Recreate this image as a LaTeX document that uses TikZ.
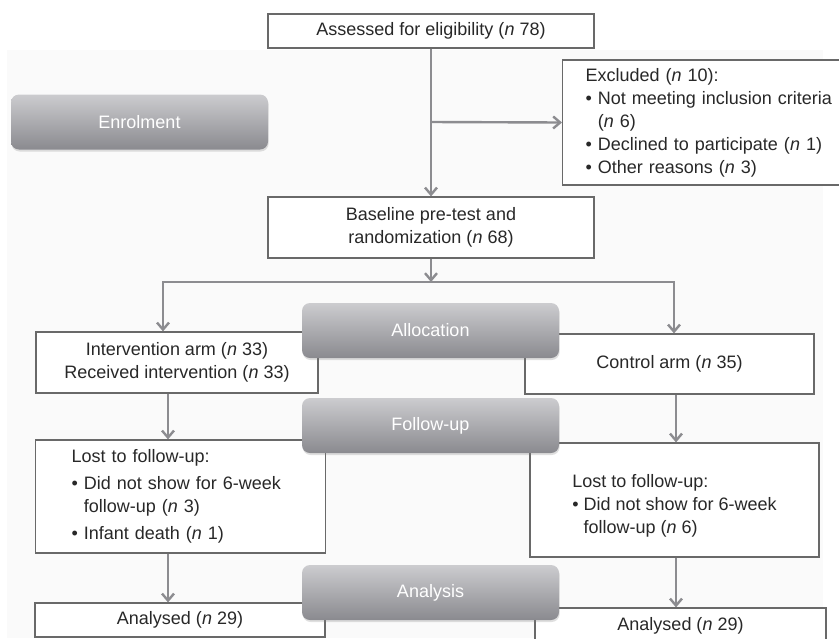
\documentclass[tikz,border=0pt]{standalone}
\usepackage{fontspec}
\setsansfont{Liberation Sans}
\usetikzlibrary{positioning, arrows.meta, shadows}

\definecolor{boxline}{RGB}{105,105,105}
\definecolor{arrowgray}{RGB}{140,140,144}
\definecolor{stagetop}{RGB}{204,204,207}
\definecolor{stagebot}{RGB}{138,138,143}
\definecolor{txtgray}{RGB}{40,40,40}
\definecolor{panelgray}{RGB}{250,250,250}

\newcommand{\nval}[1]{(\textit{n}~#1)}
\newcommand{\bul}{\textbullet\ }
\newcommand{\bulgap}{\hphantom{\textbullet\ }}

\begin{document}
\begin{tikzpicture}[
  x=0.5pt, y=-0.5pt,
  font=\sffamily\fontsize{9}{11.5}\selectfont,
  box/.style={
    draw=boxline, line width=0.6pt, fill=white, text=txtgray,
    inner sep=0pt, align=center
  },
  listbox/.style={box, anchor=west, align=left},
  stage/.style={
    rounded corners=4pt, top color=stagetop, bottom color=stagebot,
    text=white, minimum width=128.5pt, minimum height=27.5pt,
    drop shadow={shadow xshift=0.3pt, shadow yshift=-1pt, opacity=0.25}
  },
  conn/.style={draw=arrowgray, line width=1.2pt,
    -{Straight Barb[length=3.5pt, width=6pt]}},
]

\clip (0,0) rectangle (839,638);
\fill[panelgray] (7,50) rectangle (823,638);

\node[box, minimum width=163pt, minimum height=17pt] (assess) at (431,31)
  {Assessed for eligibility \nval{78}};
\node[listbox, inner xsep=11.5pt, text width=124pt, minimum height=62.5pt] (excl) at (562,122.5)
  {Excluded \nval{10}:\\ \bul Not meeting inclusion criteria\\ \bulgap\nval{6}\\
   \bul Declined to participate \nval{1}\\ \bul Other reasons \nval{3}};

\node[box, minimum width=163pt, minimum height=30.5pt] (base) at (431,227.5)
  {Baseline pre-test and\\ randomization \nval{68}};

\node[box, minimum width=141pt, minimum height=30.5pt] (intv) at (177,362.5)
  {Intervention arm \nval{33}\\ Received intervention \nval{33}};
\node[box, minimum width=144.5pt, minimum height=30pt] (ctrl) at (669.5,364)
  {Control arm \nval{35}};

\node[listbox, inner xsep=18pt, text width=109pt, minimum height=56.5pt] (lfu) at (35,496.5)
  {Lost to follow-up:\\[2pt] \bul Did not show for 6-week\\ \bulgap follow-up \nval{3}\\[2pt]
   \bul Infant death \nval{1}};
\node[box, align=left, minimum width=144.5pt, minimum height=57pt] (rfu) at (674.5,500)
  {\rule{0pt}{12.5pt}Lost to follow-up:\\ \bul Did not show for 6-week\\ \bulgap follow-up \nval{6}};

\node[box, minimum width=145pt, minimum height=17pt] (lana) at (180,620) {Analysed \nval{29}};
\node[box, minimum width=145.5pt, minimum height=18pt] (rana) at (680.5,626) {Analysed \nval{29}};

\coordinate (split) at (431,122);
\coordinate (hub) at (431,282);
\coordinate (lsplit) at (163,282);
\coordinate (rsplit) at (674,282);
\coordinate (lcol) at (168,0);
\coordinate (rcol) at (676,0);

\draw[conn] (assess) -- (base);
\draw[conn] (split) -- (excl.west);
\draw[conn] (base) -- (hub);
\draw[conn] (hub) -| (intv.north -| lsplit);
\draw[conn] (hub) -| (ctrl.north -| rsplit);
\draw[conn] (intv.south -| lcol) -- (lfu.north -| lcol);
\draw[conn] (ctrl.south -| rcol) -- (rfu.north -| rcol);
\draw[conn] (lfu.south -| lcol) -- (lana.north -| lcol);
\draw[conn] (rfu.south -| rcol) -- (rana.north -| rcol);

\node[stage] (enrol) at (139.5,122) {Enrolment};
\node[stage] (alloc) at (430.5,330.5) {Allocation};
\node[stage] (fup) at (430.5,425.5) {Follow-up};
\node[stage] (ana) at (430.5,592.5) {Analysis};

\end{tikzpicture}
\end{document}
